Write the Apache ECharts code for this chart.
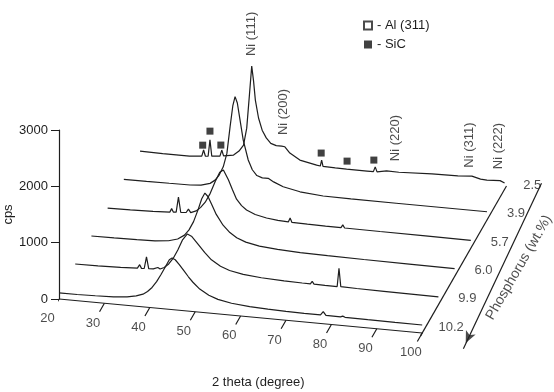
<!DOCTYPE html>
<html>
<head>
<meta charset="utf-8">
<script src="https://cdn.jsdelivr.net/npm/echarts@6/dist/echarts.min.js"></script>
<style>
html, body { margin: 0; padding: 0; background: #fff; }
#show_picture { width: 554px; height: 392px; }
</style>
</head>
<body>
<div id="show_picture"></div>
<script>
// phosphorus content (wt.%), back row first
const phosphorus = ['2.5', '3.9', '5.7', '6.0', '9.9', '10.2'];
const twoThetaTicks = [20, 30, 40, 50, 60, 70, 80, 90, 100];
const cpsTicks = [0, 1000, 2000, 3000];

// [2 theta, cps]
const p25 = [[20,115],[25,110],[30.9,108],[33.6,128],[34.0,240],[34.4,133],[35.0,140],[35.4,430],[35.8,144],[37.6,160],[38.0,270],[38.4,170],[40.6,200],[41.8,280],[42.8,395],[43.5,700],[44.1,1300],[44.6,1810],[45.0,1550],[45.4,1213],[46.1,900],[46.9,690],[47.8,560],[48.8,470],[50,440],[51.2,440],[51.9,433],[53,330],[55.2,222],[58.9,160],[59.7,150],[60.0,258],[60.3,150],[63,142],[65.5,139],[70,139],[71.4,139],[71.8,227],[72.2,140],[74.3,176],[77,170],[84.3,195],[90,205],[93.1,224],[95,185],[96.4,178],[99.3,190],[100.3,155]];
const p39 = [[20,115],[25,118],[30,122],[34.6,126],[37,142],[39,188],[40.1,254],[41,350],[41.9,504],[42.7,748],[43.4,1225],[44,1600],[44.5,1770],[45,1660],[45.6,1362],[46.3,1012],[47.4,666],[48.3,500],[49.3,405],[50.5,372],[51.8,375],[53,320],[55.1,250],[58.8,188],[63.9,152],[70,146],[80,145],[90,145],[100,145]];
const p57 = [[20,108],[25,115],[30,125],[33.7,140],[34.1,205],[34.5,145],[35.1,150],[35.6,420],[36.1,155],[37.3,160],[37.8,225],[38.3,165],[39.5,205],[40.5,275],[41.5,375],[42.6,540],[43.7,760],[44.7,930],[45.5,975],[46.6,810],[47.5,640],[48.4,480],[49.5,375],[50.6,305],[52.5,240],[55,196],[57.5,172],[59.8,162],[60.2,235],[60.6,160],[64,155],[68,150],[71.4,148],[71.8,200],[72.2,148],[80,145],[90,142],[100,140]];
const p60 = [[20,114],[25,118],[30,125],[34,135],[37,158],[39,205],[40.5,285],[41.5,385],[42.5,540],[43.5,760],[44.3,960],[45,1066],[45.7,1005],[46.5,875],[47.5,705],[49,525],[50.5,405],[52,325],[54,262],[57,215],[61,185],[66,168],[72,158],[80,150],[90,145],[100,140]];
const p99 = [[20,119],[25,125],[30,136],[33.7,150],[34.2,215],[34.6,152],[35.2,154],[35.7,365],[36.2,157],[37.2,163],[38.2,195],[38.7,172],[39.6,205],[40.6,275],[41.6,385],[42.6,540],[43.6,720],[44.7,840],[45.7,800],[47,680],[48.5,540],[50,420],[52,320],[54,260],[57,215],[61,185],[66,168],[70,160],[71.8,158],[72.2,205],[72.6,158],[75,156],[77.7,155],[78.1,480],[78.5,158],[82,152],[88,147],[94,143],[100,140]];
const p102 = [[20,107],[24,110],[28,118],[32,130],[35,150],[37,185],[38.5,225],[39.5,280],[40.5,360],[41.5,470],[42.5,610],[43.5,760],[44.3,880],[44.9,915],[45.6,890],[46.5,810],[47.5,710],[48.5,610],[49.5,520],[51,410],[53,315],[55,258],[58,212],[62,182],[66,166],[70,158],[74,153],[77.6,152],[78.2,215],[78.8,152],[82,150],[82.5,168],[83,150],[88,146],[94,143],[100,142]];
const patterns = [p25, p39, p57, p60, p99, p102];

// SiC marks above the 2.5 wt.% pattern
const sicTheta = [33.8, 35.4, 37.8, 59.9, 65.6, 71.5];
const sicCps = [325, 586, 357, 382, 282, 345];

const niNames = ['Ni (111)', 'Ni (200)', 'Ni (220)', 'Ni (311)', 'Ni (222)'];
const niTheta = [44.6, 51.7, 76.2, 92.5, 98.9];
const niCps = [2380, 1048, 770, 770, 800];

// oblique projection: each row steps back along a slanted depth axis
const DX = 3.57, DY = 502, SL = 7.55;
function proj(tt, cps, k) {
    return [tt + k * DX, cps - (tt - 20) * SL + k * DY];
}

const FONT = 'Liberation Sans, Arial, sans-serif';
const INK = '#1e1e1e';
const PX_PER_DEG = 4.54;
const X_MAX = 130; // room for the rows pushed back and right

let myChart = echarts.init(document.getElementById('show_picture'));

let series = [];

patterns.forEach((pat, i) => {
    let k = phosphorus.length - 1 - i;
    series.push({
        type: 'line',
        data: pat.map(d => proj(d[0], d[1], k)),
        symbol: 'none',
        clip: false,
        silent: true,
        lineStyle: { color: INK, width: 1.2 }
    });
});

// slanted 2 theta axis with ticks
let xAxisLine = [proj(20, 0, 0), proj(100, 0, 0)];
let xTicks = [];
for (let t of twoThetaTicks) {
    xTicks.push(proj(t, 0, 0), proj(t, 0, -0.3), '-');
}
series.push({
    type: 'line', data: xAxisLine, symbol: 'none', clip: false, silent: true,
    lineStyle: { color: INK, width: 1.2 }
});
series.push({
    type: 'line', data: xTicks, symbol: 'none', clip: false, silent: true,
    connectNulls: false, lineStyle: { color: INK, width: 1.2 }
});
series.push({
    type: 'scatter', data: twoThetaTicks.map(t => ({ value: proj(t, 0, -0.7), name: String(t) })),
    symbolSize: 0.1, clip: false, silent: true, itemStyle: { color: 'transparent' },
    label: {
        show: true, position: [0, 0], align: 'center', verticalAlign: 'middle',
        formatter: p => p.name, color: INK, fontSize: 13, fontFamily: FONT
    }
});

// depth axis with phosphorus labels
series.push({
    type: 'line', data: [proj(100, 0, -0.1), proj(100, 0, 5.2)], symbol: 'none',
    clip: false, silent: true, lineStyle: { color: INK, width: 1.2 }
});
series.push({
    type: 'scatter',
    data: phosphorus.map((p, i) => ({ value: proj(100, 0, phosphorus.length - 1 - i), name: p })),
    symbolSize: 0.1, clip: false, silent: true, itemStyle: { color: 'transparent' },
    label: {
        show: true, position: [0, 0], align: 'center', verticalAlign: 'middle', offset: [29, -6],
        formatter: p => p.name, color: INK, fontSize: 13, fontFamily: FONT
    }
});

// phosphorus arrow
series.push({
    type: 'line', data: [proj(107, 0, 5.4), proj(110.5, 0, -0.4)], symbol: 'none',
    clip: false, silent: true, lineStyle: { color: INK, width: 1.2 }
});
series.push({
    type: 'scatter', data: [proj(110.3, 0, -0.2)], symbol: 'arrow', symbolSize: [8, 12],
    symbolRotate: 155, clip: false, silent: true, itemStyle: { color: INK }
});
series.push({
    type: 'scatter', data: [{ value: proj(112.4, 0, 2.5), name: 'Phosphorus (wt.%)' }],
    symbolSize: 0.1, clip: false, silent: true, itemStyle: { color: 'transparent' },
    label: {
        show: true, position: [0, 0], align: 'center', verticalAlign: 'middle', rotate: 60,
        formatter: p => p.name, color: INK, fontSize: 14, fontFamily: FONT
    }
});

// peak labels
series.push({
    type: 'scatter',
    data: niNames.map((n, i) => ({ value: proj(niTheta[i], niCps[i], 5), name: n })),
    symbolSize: 0.1, clip: false, silent: true, itemStyle: { color: 'transparent' },
    label: {
        show: true, position: [0, 0], align: 'center', verticalAlign: 'middle', rotate: 90,
        formatter: p => p.name, color: INK, fontSize: 13, fontFamily: FONT
    }
});

// phase markers
series.push({
    name: 'Al (311)', type: 'scatter', data: [], symbol: 'rect', symbolSize: 7,
    itemStyle: { color: '#fff', borderColor: INK, borderWidth: 1 }
});
series.push({
    name: 'SiC', type: 'scatter', symbol: 'rect', symbolSize: 7, clip: false, silent: true,
    data: sicTheta.map((t, i) => proj(t, sicCps[i], 5)),
    itemStyle: { color: '#111' }
});

let option = {
    animation: false,
    backgroundColor: '#fff',
    title: {
        text: '2 theta (degree)', left: 207, top: 371,
        textStyle: { fontSize: 13, fontWeight: 'normal', color: INK, fontFamily: FONT }
    },
    legend: {
        data: ['Al (311)', 'SiC'], orient: 'vertical', left: 358, top: 14,
        itemWidth: 8, itemHeight: 8, itemGap: 6, itemTextGap: 3, icon: 'rect', selectedMode: false,
        formatter: n => '- ' + n,
        textStyle: { fontSize: 13, color: INK, fontFamily: FONT }
    },
    grid: {
        left: 59, top: 130, width: (X_MAX - 20) * PX_PER_DEG, height: 169,
        containLabel: false, outerBoundsMode: 'none'
    },
    xAxis: { type: 'value', min: 20, max: X_MAX, show: false },
    yAxis: {
        type: 'value', min: cpsTicks[0], max: cpsTicks[cpsTicks.length - 1], interval: 1000,
        name: 'cps', nameLocation: 'middle', nameGap: 44, nameRotate: 90, nameMoveOverlap: false,
        nameTextStyle: { fontSize: 13, color: INK, fontFamily: FONT },
        axisLine: { show: true, lineStyle: { color: INK, width: 1.2 } },
        axisTick: { show: true, length: 8, lineStyle: { color: INK } },
        axisLabel: { margin: 11, fontSize: 13, color: INK, fontFamily: FONT, formatter: v => String(v) },
        splitLine: { show: false }
    },
    series: series
};

option && myChart.setOption(option);
</script>
</body>
</html>
